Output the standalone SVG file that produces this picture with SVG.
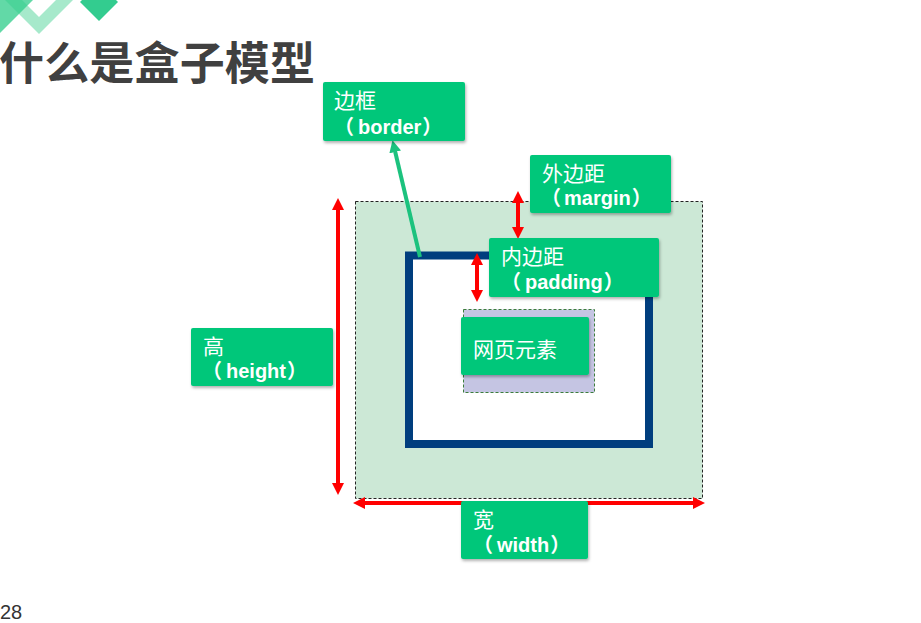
<svg xmlns="http://www.w3.org/2000/svg" width="921" height="623" viewBox="0 0 921 623">
  <defs>
    <style>
      .box { fill: #00C77A; }
      .cn { font-family: "Noto Sans CJK SC", sans-serif; font-size: 21px; fill: #ffffff; }
      .en { font-family: "Liberation Sans", "Noto Sans CJK SC", sans-serif; font-size: 20px; font-weight: bold; fill: #ffffff; }
      .red { stroke: #FF0000; stroke-width: 4; fill: none; }
      .title { font-family: "Noto Sans CJK SC", sans-serif; font-size: 45px; font-weight: bold; fill: #404040; }
    </style>
    <filter id="sh" x="-10%" y="-10%" width="130%" height="140%">
      <feDropShadow dx="1" dy="2" stdDeviation="1.5" flood-color="#000" flood-opacity="0.3"/>
    </filter>
    <marker id="ar" viewBox="0 0 12 12" refX="1" refY="6" markerWidth="12" markerHeight="12" markerUnits="userSpaceOnUse" orient="auto-start-reverse">
      <path d="M0,0 L12,6 L0,12 Z" fill="#FF0000"/>
    </marker>
    <marker id="ag" viewBox="0 0 12 12" refX="1" refY="6" markerWidth="12" markerHeight="12" markerUnits="userSpaceOnUse" orient="auto">
      <path d="M0,0 L12,6 L0,12 Z" fill="#1CC27E"/>
    </marker>
  </defs>

  <rect width="921" height="623" fill="#ffffff"/>

  <!-- decoration -->
  <g id="decor">
    <polygon points="5,0 22,0 39,17 56,0 73,0 39,34" fill="#A6E9CB"/>
    <polygon points="0,0 33,0 0,33" fill="#2ECC8A" opacity="0.75"/>
    <polygon points="80,2 99,-17 118,2 99,21" fill="#33CC8F"/>
  </g>

  <text class="title" x="-1" y="80" textLength="316">什么是盒子模型</text>
  <text x="0" y="619" font-family="Liberation Sans, sans-serif" font-size="20" fill="#333333">28</text>

  <!-- box model -->
  <g id="margin-area">
    <rect x="355.5" y="201.5" width="347" height="297" fill="#CCE8D6" stroke="#222" stroke-width="1" stroke-dasharray="3,2"/>
  </g>
  <g id="border-area">
    <rect x="409" y="255.5" width="240" height="188.5" fill="#ffffff" stroke="#003E7E" stroke-width="8"/>
  </g>
  <g id="content-area">
    <rect x="463.5" y="309.5" width="131" height="83" fill="#C5C5E3" stroke="#3C7D3C" stroke-width="1" stroke-dasharray="3,2"/>
  </g>

  <!-- connectors -->
  <g id="connectors">
    <line class="red" x1="338" y1="209" x2="338" y2="484" marker-start="url(#ar)" marker-end="url(#ar)"/>
    <line class="red" x1="364" y1="503" x2="694" y2="503" marker-start="url(#ar)" marker-end="url(#ar)"/>
    <line class="red" x1="518" y1="202" x2="518" y2="228" marker-start="url(#ar)" marker-end="url(#ar)"/>
    <line class="red" x1="477" y1="264" x2="477" y2="291" marker-start="url(#ar)" marker-end="url(#ar)"/>
    <line x1="420" y1="257" x2="395" y2="151" stroke="#1CC27E" stroke-width="4" marker-end="url(#ag)"/>
  </g>

  <g id="node-element">
    <rect class="box" x="461" y="317" width="128" height="58" rx="2" filter="url(#sh)"/>
    <text class="cn" x="473" y="357" font-size="22">网页元素</text>
  </g>

  <g id="node-border">
    <rect class="box" x="323" y="82" width="142" height="59" rx="2" filter="url(#sh)"/>
    <text class="cn" x="334" y="108">边框</text>
    <text class="en" x="334" y="134">（<tspan dx="4">border</tspan><tspan dx="1">）</tspan></text>
  </g>

  <g id="node-margin">
    <rect class="box" x="530" y="155" width="141" height="58" rx="2" filter="url(#sh)"/>
    <text class="cn" x="542" y="181">外边距</text>
    <text class="en" x="541" y="205">（<tspan dx="3">margin</tspan><tspan dx="1">）</tspan></text>
  </g>

  <g id="node-padding">
    <rect class="box" x="489" y="238" width="170" height="59" rx="2" filter="url(#sh)"/>
    <text class="cn" x="501" y="264">内边距</text>
    <text class="en" x="501" y="289">（<tspan dx="4">padding</tspan><tspan dx="1">）</tspan></text>
  </g>

  <g id="node-height">
    <rect class="box" x="191" y="328" width="142" height="58" rx="2" filter="url(#sh)"/>
    <text class="cn" x="203" y="354">高</text>
    <text class="en" x="202" y="378">（<tspan dx="4">height</tspan><tspan dx="1">）</tspan></text>
  </g>

  <g id="node-width">
    <rect class="box" x="461" y="501" width="127" height="58" rx="2" filter="url(#sh)"/>
    <text class="cn" x="473" y="527">宽</text>
    <text class="en" x="473" y="552">（<tspan dx="4">width</tspan><tspan dx="1">）</tspan></text>
  </g>
</svg>
